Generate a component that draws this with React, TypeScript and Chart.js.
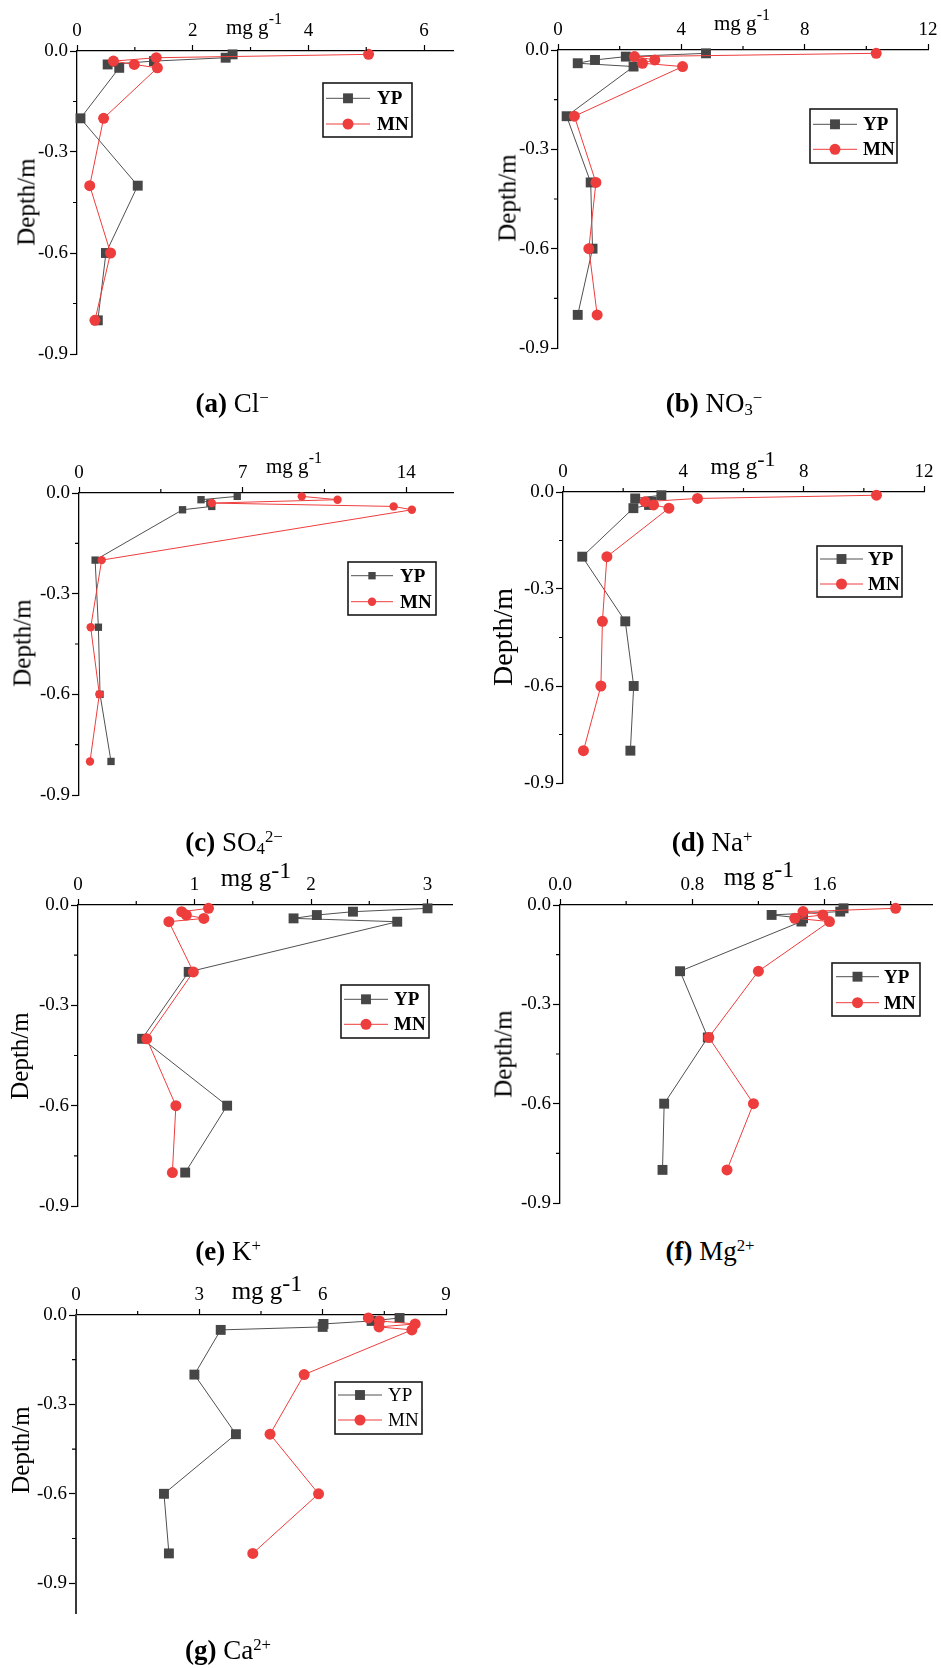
import React, { useEffect, useRef } from 'react';
import { Chart, registerables } from 'chart.js';
Chart.register(...registerables);

const FONT = '"Liberation Serif", "Times New Roman", serif';
const GREY = '#464646';
const GREY_LINE = '#505050';
const RED = '#ee3d3d';
const RED_LINE = '#ee3d3d';

// sampling depths (m)
const depths = [-0.01, -0.02, -0.03, -0.04, -0.05, -0.2, -0.4, -0.6, -0.8];
const depthTicks = [-0.9, -0.6, -0.3, 0];
const depthMinor = [-0.75, -0.45, -0.15];

// (a) Cl-
const clYP = [2.69, 2.57, 1.33, 0.53, 0.73, 0.06, 1.05, 0.5, 0.36];
const clMN = [5.04, 1.37, 0.63, 0.99, 1.39, 0.46, 0.22, 0.58, 0.31];
const clTicks = [0, 2, 4, 6];
const clMinor = [1, 3, 5];
// (b) NO3-
const no3YP = [4.8, 2.2, 1.2, 0.64, 2.45, 0.28, 1.06, 1.12, 0.64];
const no3MN = [10.32, 2.48, 3.14, 2.74, 4.04, 0.53, 1.23, 1.0, 1.27];
const no3Ticks = [0, 4, 8, 12];
const no3Minor = [2, 6, 10];
// (c) SO4 2-
const so4YP = [6.77, 5.22, 5.6, 5.68, 4.43, 0.69, 0.83, 0.9, 1.37];
const so4MN = [9.53, 11.06, 5.68, 13.46, 14.24, 0.97, 0.5, 0.87, 0.47];
const so4Ticks = [0, 7, 14];
const so4Minor = [3.5, 10.5];
// (d) Na+
const naYP = [3.27, 2.4, 2.95, 2.86, 2.34, 0.64, 2.07, 2.35, 2.24];
const naMN = [10.42, 4.47, 2.73, 3.01, 3.52, 1.46, 1.31, 1.26, 0.68];
const naTicks = [0, 4, 8, 12];
const naMinor = [2, 6, 10];
// (e) K+
const kYP = [3.0, 2.36, 2.05, 1.85, 2.74, 0.95, 0.55, 1.28, 0.92];
const kMN = [1.12, 0.89, 0.93, 1.08, 0.78, 0.99, 0.59, 0.84, 0.81];
const kTicks = [0, 1, 2, 3];
const kMinor = [0.5, 1.5, 2.5];
// (f) Mg2+
const mgYP = [1.715, 1.695, 1.28, 1.47, 1.46, 0.726, 0.894, 0.63, 0.62];
const mgMN = [2.03, 1.47, 1.59, 1.42, 1.63, 1.2, 0.9, 1.17, 1.01];
const mgTicks = [0, 0.8, 1.6];
const mgMinor = [0.4, 1.2, 2.0];
// (g) Ca2+
const caYP = [7.87, 7.19, 6.02, 6.0, 3.52, 2.88, 3.89, 2.14, 2.26];
const caMN = [7.11, 7.38, 8.25, 7.37, 8.17, 5.55, 4.72, 5.9, 4.3];
const caTicks = [0, 3, 6, 9];
const caMinor = [1.5, 4.5, 7.5];

const seriesNames = ['YP', 'MN'];

type PanelDef = {
  yp: number[]; mn: number[];
  xMax: number; xTicks: number[]; xMinor: number[]; fixed?: boolean;
  yMin: number;
  plot: [number, number, number, number];
  legend: { box: [number, number, number, number]; rows: [number, number]; sample: [number, number]; text: number; bold: boolean };
  sq: number; ci: number; yBorder?: { color: string; width: number };
};

const panels: PanelDef[] = [
  { yp: clYP, mn: clMN, xMax: 6.5, xTicks: clTicks, xMinor: clMinor, yMin: -0.9, plot: [77, 51, 453, 354],
    legend: { box: [323, 83, 412, 137], rows: [98.3, 124], sample: [326, 370], text: 377, bold: true }, sq: 7, ci: 5.5 },
  { yp: no3YP, mn: no3MN, xMax: 12, xTicks: no3Ticks, xMinor: no3Minor, yMin: -0.9, plot: [558, 50, 928, 348],
    legend: { box: [810, 109, 897, 163], rows: [124.3, 149.3], sample: [813, 857], text: 863, bold: true }, sq: 7, ci: 5.5 },
  { yp: so4YP, mn: so4MN, xMax: 16, xTicks: so4Ticks, xMinor: so4Minor, yMin: -0.9, plot: [79, 493, 453, 795],
    legend: { box: [348, 562, 436, 615], rows: [575.7, 601.7], sample: [351, 393], text: 400, bold: true }, sq: 5.2, ci: 4.2 },
  { yp: naYP, mn: naMN, xMax: 12, xTicks: naTicks, xMinor: naMinor, yMin: -0.9, plot: [563, 492, 924, 783],
    legend: { box: [817, 546, 902, 597], rows: [559, 584], sample: [820, 863], text: 868, bold: true }, sq: 7, ci: 5.5 },
  { yp: kYP, mn: kMN, xMax: 3.21, xTicks: kTicks, xMinor: kMinor, yMin: -0.9, plot: [78, 905, 452, 1206],
    legend: { box: [341, 985, 429, 1038], rows: [999.3, 1024.3], sample: [344, 388], text: 394, bold: true }, sq: 7, ci: 5.5 },
  { yp: mgYP, mn: mgMN, xMax: 2.25, xTicks: mgTicks, xMinor: mgMinor, fixed: true, yMin: -0.9, plot: [560, 905, 932, 1203],
    legend: { box: [832, 963, 920, 1016], rows: [976.7, 1002.7], sample: [836, 879], text: 884, bold: true }, sq: 7, ci: 5.5 },
  { yp: caYP, mn: caMN, xMax: 9, xTicks: caTicks, xMinor: caMinor, yMin: -1.0, plot: [76, 1315, 446, 1613],
    legend: { box: [335, 1382, 422, 1434], rows: [1395, 1420], sample: [338, 382], text: 388, bold: false }, sq: 7, ci: 5.5,
    yBorder: { color: '#3a3a3a', width: 2 } },
];

const L = 62, T = 46, R = 30, B = 22;

function Panel({ p }: { p: PanelDef }) {
  const ref = useRef<HTMLCanvasElement>(null);
  const [pl, pt, pr, pb] = p.plot;
  const w = pr - pl + L + R;
  const h = pb - pt + T + B;
  const cl = pl - L, ct = pt - T;

  useEffect(() => {
    if (!ref.current) return;
    const minorPlugin = {
      id: 'minorTicks',
      afterDraw(chart: any) {
        const { ctx, chartArea: ca } = chart;
        const xs = chart.scales.x, ys = chart.scales.y;
        ctx.save();
        ctx.strokeStyle = '#000';
        ctx.lineWidth = 1.2;
        ctx.beginPath();
        p.xMinor.forEach((v) => {
          const px = xs.getPixelForValue(v);
          ctx.moveTo(px, ca.top);
          ctx.lineTo(px, ca.top - 4);
        });
        depthMinor.forEach((v) => {
          const py = ys.getPixelForValue(v);
          ctx.moveTo(ca.left, py);
          ctx.lineTo(ca.left - 4, py);
        });
        ctx.stroke();
        ctx.restore();
      },
    };
    const legendPlugin = {
      id: 'boxLegend',
      afterDraw(chart: any) {
        const ctx = chart.ctx;
        const lg = p.legend;
        ctx.save();
        ctx.strokeStyle = '#1a1a1a';
        ctx.lineWidth = 1.6;
        ctx.strokeRect(lg.box[0] - cl, lg.box[1] - ct, lg.box[2] - lg.box[0], lg.box[3] - lg.box[1]);
        seriesNames.forEach((name, i) => {
          const y = lg.rows[i] - ct;
          const x0 = lg.sample[0] - cl, x1 = lg.sample[1] - cl;
          ctx.strokeStyle = i === 0 ? GREY_LINE : RED_LINE;
          ctx.lineWidth = 1;
          ctx.beginPath();
          ctx.moveTo(x0, y);
          ctx.lineTo(x1, y);
          ctx.stroke();
          const mx = (x0 + x1) / 2;
          ctx.fillStyle = i === 0 ? GREY : RED;
          if (i === 0) {
            const s = p.sq * Math.SQRT1_2;
            ctx.fillRect(mx - s, y - s, 2 * s, 2 * s);
          } else {
            ctx.beginPath();
            ctx.arc(mx, y, p.ci, 0, Math.PI * 2);
            ctx.fill();
          }
          ctx.fillStyle = '#000';
          ctx.font = `${lg.bold ? 'bold ' : ''}19px ${FONT}`;
          ctx.textBaseline = 'middle';
          ctx.textAlign = 'left';
          ctx.fillText(name, lg.text - cl, y + 1);
        });
        ctx.restore();
      },
    };
    const chart = new Chart(ref.current, {
      type: 'scatter',
      data: {
        datasets: [
          {
            label: 'YP',
            data: depths.map((d, i) => ({ x: p.yp[i], y: d })),
            showLine: true,
            borderColor: GREY_LINE,
            borderWidth: 1,
            pointStyle: 'rect',
            pointRadius: p.sq,
            pointBackgroundColor: GREY,
            pointBorderColor: GREY,
            pointBorderWidth: 0,
            order: 1,
            clip: false,
          } as any,
          {
            label: 'MN',
            data: depths.map((d, i) => ({ x: p.mn[i], y: d })),
            showLine: true,
            borderColor: RED_LINE,
            borderWidth: 1,
            pointStyle: 'circle',
            pointRadius: p.ci,
            pointBackgroundColor: RED,
            pointBorderColor: RED,
            pointBorderWidth: 0,
            order: 0,
            clip: false,
          } as any,
        ],
      },
      options: {
        animation: false,
        responsive: false,
        devicePixelRatio: 1,
        events: [],
        layout: { padding: { left: 0, top: 0, right: R, bottom: B } },
        plugins: { legend: { display: false }, tooltip: { enabled: false } },
        scales: {
          x: {
            type: 'linear',
            position: 'top',
            min: 0,
            max: p.xMax,
            afterBuildTicks: (s: any) => {
              s.ticks = p.xTicks.map((v) => ({ value: v }));
            },
            afterFit: (s: any) => {
              s.height = T;
            },
            ticks: {
              autoSkip: false,
              maxRotation: 0,
              padding: 3,
              color: '#000',
              font: { family: FONT, size: 19 },
              callback: (v: any) => (p.fixed ? Number(v).toFixed(1) : String(v)),
            },
            grid: { drawOnChartArea: false, drawTicks: true, tickLength: 6, tickColor: '#000', tickWidth: 1.2 },
            border: { display: true, color: '#000', width: 1.3 },
          },
          y: {
            type: 'linear',
            min: p.yMin,
            max: 0,
            afterBuildTicks: (s: any) => {
              s.ticks = depthTicks.map((v) => ({ value: v }));
            },
            afterFit: (s: any) => {
              s.width = L;
            },
            ticks: {
              autoSkip: false,
              padding: 2,
              color: '#000',
              font: { family: FONT, size: 19 },
              callback: (v: any) => Number(v).toFixed(1),
            },
            grid: { drawOnChartArea: false, drawTicks: true, tickLength: 7, tickColor: '#000', tickWidth: 1.2 },
            border: { display: true, color: p.yBorder ? p.yBorder.color : '#000', width: p.yBorder ? p.yBorder.width : 1.3 },
          },
        },
      } as any,
      plugins: [minorPlugin, legendPlugin],
    });
    return () => chart.destroy();
  }, []);

  return (
    <canvas
      ref={ref}
      width={w}
      height={h}
      style={{ position: 'absolute', left: cl, top: ct, width: w, height: h }}
    />
  );
}

const titles: { x: number; y: number; size: number; sup: number; big: boolean }[] = [
  { x: 254, y: 27, size: 21, sup: 16, big: false },
  { x: 742, y: 23, size: 21, sup: 16, big: false },
  { x: 294, y: 466, size: 21, sup: 16, big: false },
  { x: 743, y: 466, size: 23, sup: 22, big: true },
  { x: 256, y: 877, size: 25, sup: 24, big: true },
  { x: 759, y: 876, size: 25, sup: 24, big: true },
  { x: 267, y: 1290, size: 25, sup: 24, big: true },
];

const depthLabels: { x: number; y: number; size: number }[] = [
  { x: 26, y: 202, size: 25 },
  { x: 507, y: 198, size: 25 },
  { x: 22, y: 643, size: 25 },
  { x: 503, y: 637, size: 28 },
  { x: 19, y: 1056, size: 25 },
  { x: 503, y: 1054, size: 25 },
  { x: 20, y: 1450, size: 25 },
];

const supStyle: React.CSSProperties = { fontSize: '0.62em', position: 'relative', top: '-0.55em', verticalAlign: 'baseline' };
const subStyle: React.CSSProperties = { fontSize: '0.62em', position: 'relative', top: '0.15em', verticalAlign: 'baseline' };

const captions: { x: number; y: number; tag: string; body: React.ReactNode }[] = [
  { x: 232, y: 403, tag: '(a)', body: <>Cl<span style={supStyle}>−</span></> },
  { x: 714, y: 403, tag: '(b)', body: <>NO<span style={subStyle}>3</span><span style={supStyle}>−</span></> },
  { x: 234, y: 842, tag: '(c)', body: <>SO<span style={subStyle}>4</span><span style={supStyle}>2−</span></> },
  { x: 712, y: 842, tag: '(d)', body: <>Na<span style={supStyle}>+</span></> },
  { x: 228, y: 1251, tag: '(e)', body: <>K<span style={supStyle}>+</span></> },
  { x: 710, y: 1251, tag: '(f)', body: <>Mg<span style={supStyle}>2+</span></> },
  { x: 228, y: 1650, tag: '(g)', body: <>Ca<span style={supStyle}>2+</span></> },
];

export default function App() {
  const abs = (x: number, y: number): React.CSSProperties => ({
    position: 'absolute',
    left: x,
    top: y,
    transform: 'translate(-50%, -50%)',
    whiteSpace: 'nowrap',
    lineHeight: 1,
    fontFamily: FONT,
    color: '#000',
  });
  return (
    <div style={{ position: 'absolute', left: 0, top: 0, width: 941, height: 1668, background: '#fff', overflow: 'hidden' }}>
      {panels.map((p, i) => (
        <Panel key={i} p={p} />
      ))}
      {titles.map((t, i) => (
        <div key={'t' + i} style={{ ...abs(t.x, t.y), fontSize: t.size }}>
          mg g<span style={{ fontSize: t.sup, position: 'relative', top: t.big ? '-0.35em' : '-0.6em', verticalAlign: 'baseline' }}>-1</span>
        </div>
      ))}
      {depthLabels.map((d, i) => (
        <div key={'d' + i} style={{ ...abs(d.x, d.y), fontSize: d.size, transform: 'translate(-50%, -50%) rotate(-90deg)' }}>
          Depth/m
        </div>
      ))}
      {captions.map((c, i) => (
        <div key={'c' + i} style={{ ...abs(c.x, c.y), fontSize: 27 }}>
          <b>{c.tag}</b> {c.body}
        </div>
      ))}
    </div>
  );
}
